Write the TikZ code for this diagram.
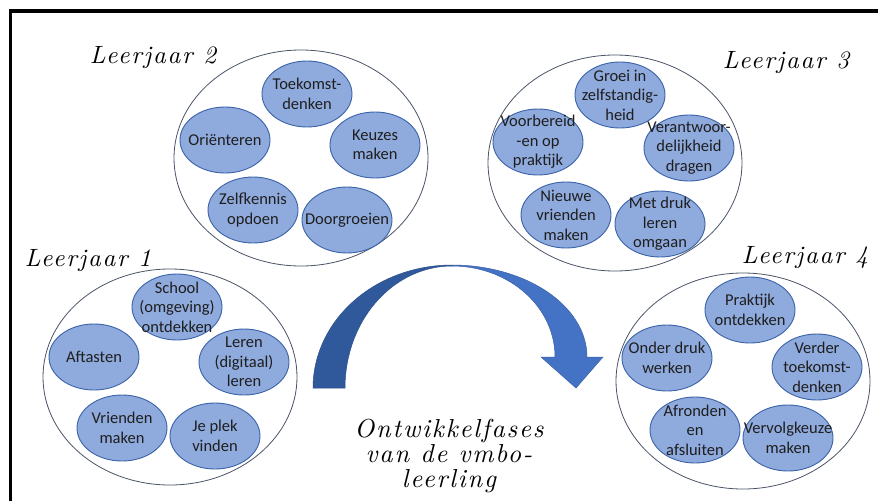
\documentclass[tikz,border=0pt]{standalone}
\usepackage{fontspec}
\usetikzlibrary{shapes.geometric}
\setsansfont{Carlito}
\newfontfamily\hand{lmroman10-italic.otf}[LetterSpace=7]

\definecolor{bubfill}{HTML}{8FAADC}
\definecolor{bubline}{HTML}{3A62A8}
\definecolor{ring}{HTML}{4A5568}
\definecolor{txt}{HTML}{1E1E1E}
\definecolor{arrowdark}{HTML}{30599B}
\definecolor{arrowlight}{HTML}{4472C4}

\tikzset{
  bub/.style={ellipse, draw=bubline, fill=bubfill, line width=0.9pt,
    minimum width=90pt, minimum height=66pt, inner sep=0pt},
  btxt/.style={align=center, text=txt, inner sep=0pt,
    font=\sffamily\fontsize{16.5}{19.5}\selectfont},
  yearring/.style={ellipse, draw=ring, line width=0.8pt, fill=white,
    minimum width=254pt, minimum height=216pt, inner sep=0pt},
  hlabel/.style={inner sep=0pt, text=black,
    font=\hand\fontsize{25}{26}\selectfont},
}

% bubble: name, x, y, text
\newcommand\bubble[4]{%
  \node[bub] (#1) at (#2,#3) {};
  \node[btxt] (#1t) at (#1.center) {#4};}

\begin{document}
\begin{tikzpicture}[x=1pt, y=-1pt]
\useasboundingbox (0,0) rectangle (878,501);
\fill[white] (0,0) rectangle (878,501);

% frame along the top and left
\draw[line width=3.3pt] (10.5,501) -- (10.5,11) -- (878,11);

% year rings
\node[yearring] (ring1) at (170,377) {};
\node[yearring] (ring2) at (301,158) {};
\node[yearring] (ring3) at (615,163) {};
\node[yearring] (ring4) at (743,381) {};

% year titles
\node[hlabel, anchor=base] (lab1) at (88,266) {Leerjaar 1};
\node[hlabel, anchor=base] (lab2) at (153,63) {Leerjaar 2};
\node[hlabel, anchor=base] (lab3) at (786,68) {Leerjaar 3};
\node[hlabel, anchor=base] (lab4) at (805,263) {Leerjaar 4};

% year 2
\bubble{b2a}{307}{94}{Toekomst-\\denken}
\bubble{b2b}{225}{140}{Oriënteren}
\bubble{b2c}{375}{145}{Keuzes\\maken}
\bubble{b2d}{253}{210}{Zelfkennis\\opdoen}
\bubble{b2e}{347}{220}{Doorgroeien}

% year 3
\bubble{b3a}{620}{95}{Groei in\\zelfstandig-\\heid}
\bubble{b3b}{538}{142}{Voorbereid\\-en op\\praktijk}
\bubble{b3c}{689}{148}{Verantwoor-\\delijkheid\\dragen}
\bubble{b3d}{566}{215}{Nieuwe\\vrienden\\maken}
\bubble{b3e}{660}{224}{Met druk\\leren\\omgaan}

% year 1
\bubble{b1a}{177}{307}{School\\(omgeving)\\ontdekken}
\bubble{b1b}{94}{357}{Aftasten}
\bubble{b1c}{244}{362}{Leren\\(digitaal)\\leren}
\bubble{b1d}{122}{428}{Vrienden\\maken}
\bubble{b1e}{215}{436}{Je plek\\vinden}

% year 4
\bubble{b4a}{750}{310}{Praktijk\\ontdekken}
\bubble{b4b}{667}{358}{Onder druk\\werken}
\bubble{b4c}{817}{367}{Verder\\toekomst-\\denken}
\bubble{b4d}{695}{430}{Afronden\\en\\afsluiten}
\bubble{b4e}{788}{438}{Vervolgkeuze\\maken}

% curved arrow: rear half
\filldraw[fill=arrowdark, draw=arrowdark!90!black, line width=0.5pt]
  plot[domain=180:270, samples=50] ({452+139*cos(\x)},{388+123*sin(\x)})
  -- plot[domain=270:180, samples=50] ({452+107*cos(\x)},{388+122*sin(\x)})
  -- cycle;
% curved arrow: front half with head
\filldraw[fill=arrowlight, draw=arrowlight!85!black, line width=0.5pt]
  plot[domain=270:360, samples=50] ({452+135*cos(\x)},{357+92*sin(\x)})
  -- (603,357) -- (576,388) -- (541,357) -- (555,357)
  -- plot[domain=360:270, samples=50] ({452+103*cos(\x)},{357+91*sin(\x)})
  -- cycle;

% caption
\node[hlabel, align=center, font=\hand\fontsize{26}{25}\selectfont]
  (caption) at (449,456) {Ontwikkelfases\\van de vmbo-\\leerling};
\end{tikzpicture}
\end{document}
